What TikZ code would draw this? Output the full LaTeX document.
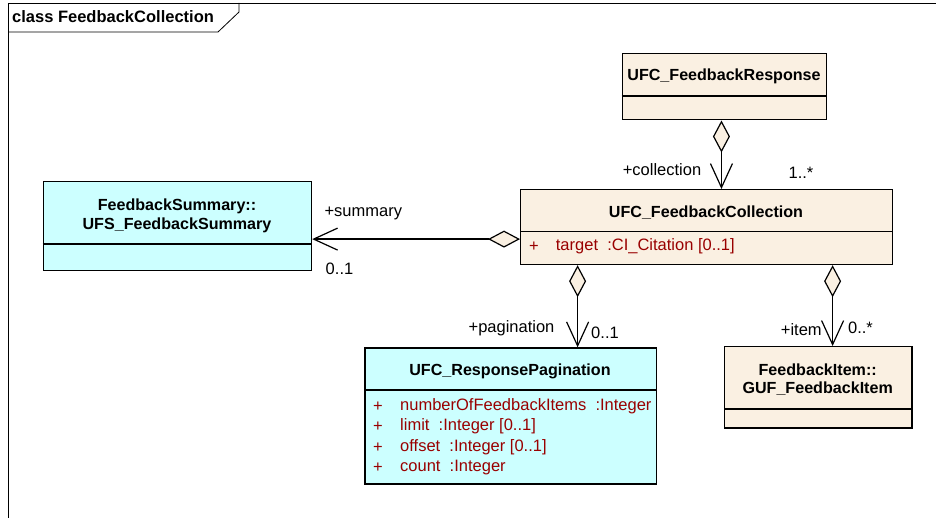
\documentclass[tikz,border=0pt]{standalone}
\usepackage{fontspec}
\setmainfont{Liberation Sans}
\usetikzlibrary{arrows.meta}
\definecolor{ufcbeige}{RGB}{250,240,226}
\definecolor{ufccyan}{RGB}{204,255,255}
\definecolor{attrred}{RGB}{153,0,0}

\begin{document}
\begin{tikzpicture}[x=1pt,y=-1pt,
    classbox/.style={draw,line width=1.2pt,anchor=north west,inner sep=0pt},
    sepline/.style={line width=1.2pt},
    classname/.style={font=\fontsize{16.1}{18.5}\selectfont\bfseries,align=center,inner sep=0pt},
    attr/.style={anchor=west,text=attrred,font=\fontsize{16.5}{19}\selectfont,inner sep=0pt},
    role/.style={font=\fontsize{16.5}{19}\selectfont,inner sep=0pt},
    aggr/.style={line width=1.2pt,{Diamond[length=32pt,width=17pt,fill=ufcbeige]}-{Straight Barb[length=24pt,width=22pt]}}]
    \useasboundingbox (0,0) rectangle (936,518);

    % Rahmen
    \draw[line width=0.8pt] (936,3) -- (8,3) -- (8,518);
    \draw[line width=0.8pt] (8,32) -- (218,32) -- (239,12) -- (239,3);
    \node[classname,anchor=west,font=\fontsize{16.5}{19}\selectfont\bfseries] (frametitle) at (12,17) {class FeedbackCollection};

    % UFC_FeedbackResponse
    \node[classbox,fill=ufcbeige,minimum width=204.3pt,minimum height=66pt] (resp) at (621.7,53.3) {};
    \node[classname] (respname) at (724,76.7) {UFC\_FeedbackResponse};
    \draw[sepline] (621.7,96) -- (826,96);

    % UFC_FeedbackCollection
    \node[classbox,fill=ufcbeige,minimum width=372pt,minimum height=75pt] (coll) at (520,189) {};
    \node[classname] (collname) at (706,212.7) {UFC\_FeedbackCollection};
    \draw[sepline] (520,231.7) -- (892,231.7);
    \node[attr] (collplus) at (529,246.7) {+};
    \node[attr] (colltarget) at (555.7,246.7) {target~~:CI\_Citation [0..1]};

    % FeedbackSummary
    \node[classbox,fill=ufccyan,minimum width=268.3pt,minimum height=89.3pt] (summ) at (42.7,180.7) {};
    \node[classname] (summname) at (177,216) {FeedbackSummary::\\UFS\_FeedbackSummary};
    \draw[sepline] (42.7,244) -- (311,244);

    % UFC_ResponsePagination
    \node[classbox,fill=ufccyan,minimum width=291.4pt,minimum height=136pt] (pag) at (364.3,347.3) {};
    \node[classname] (pagname) at (510,371.7) {UFC\_ResponsePagination};
    \draw[sepline] (364.3,390) -- (655.7,390);
    \node[attr] (pagplus1) at (373,406.7) {+};
    \node[attr] (pagnum) at (400,406.7) {numberOfFeedbackItems~~:Integer};
    \node[attr] (pagplus2) at (373,426.7) {+};
    \node[attr] (paglimit) at (400,426.7) {limit~~:Integer [0..1]};
    \node[attr] (pagplus3) at (373,447.7) {+};
    \node[attr] (pagoffset) at (400,447.7) {offset~~:Integer [0..1]};
    \node[attr] (pagplus4) at (373,467.7) {+};
    \node[attr] (pagcount) at (400,467.7) {count~~:Integer};

    % FeedbackItem
    \node[classbox,fill=ufcbeige,minimum width=187.3pt,minimum height=81.3pt] (item) at (724,346) {};
    \node[classname] (itemname) at (817.7,379.7) {FeedbackItem::\\GUF\_FeedbackItem};
    \draw[sepline] (724,409) -- (911.3,409);

    % Aggregationen
    \draw[aggr] ([xshift=-3pt]resp.south) -- ([xshift=-3pt]resp.south |- coll.north);
    \draw[aggr] ([yshift=-12pt]coll.west) -- ([yshift=-12pt]coll.west -| summ.east);
    \draw[aggr] ([xshift=-129pt]coll.south) -- ([xshift=-129pt]coll.south |- pag.north);
    \draw[aggr] ([xshift=126pt]coll.south) -- ([xshift=126pt]coll.south |- item.north);

    % Rollen und Multiplizitaeten
    \node[role] (collrole) at (662,170) {+collection};
    \node[role] (collmult) at (801,173) {1..*};
    \node[role] (summrole) at (363.3,213.3) {+summary};
    \node[role] (summmult) at (339.5,269) {0..1};
    \node[role] (pagrole) at (511.5,328.3) {+pagination};
    \node[role] (pagmult) at (605,333.3) {0..1};
    \node[role] (itemrole) at (801.3,330) {+item};
    \node[role] (itemmult) at (860.5,328.3) {0..*};
\end{tikzpicture}
\end{document}
